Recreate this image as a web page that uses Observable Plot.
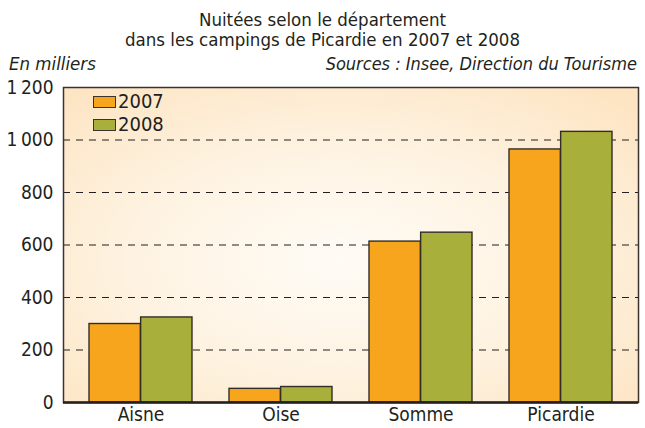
<!DOCTYPE html>
<html><head><meta charset="utf-8">
<script src="https://cdn.jsdelivr.net/npm/d3@7"></script>
<script src="https://cdn.jsdelivr.net/npm/@observablehq/plot@0.6"></script>
<style>
body{margin:0;background:#fff;width:645px;height:428px;overflow:hidden;font-family:"Liberation Sans Narrow","DejaVu Sans Condensed",sans-serif;color:#231f20;}
#wrap{position:relative;width:645px;height:428px;}
.t{position:absolute;white-space:nowrap;}
</style></head>
<body><div id="wrap">
<div class="t" style="left:0;width:645px;top:10px;text-align:center;font-size:18.5px;line-height:20px;">Nuitées selon le département<br>dans les campings de Picardie en 2007 et 2008</div>
<div class="t" style="left:9px;top:53px;font-size:18.5px;font-style:italic;">En milliers</div>
<div class="t" style="right:8px;top:53px;font-size:18px;font-style:italic;">Sources : Insee, Direction du Tourisme</div>
<div id="chart" style="position:absolute;left:0;top:70px;"></div>
<div id="legend" style="position:absolute;left:93px;top:90px;font-size:20px;line-height:23px;"></div>
</div>
<script>
const departements = ["Aisne", "Oise", "Somme", "Picardie"];
const annees = ["2007", "2008"];
const valeurs2007 = [299, 52, 613, 964];
const valeurs2008 = [324, 59, 647, 1031];
const yTicks = [0, 200, 400, 600, 800, 1000, 1200];
const gridTicks = [200, 400, 600, 800, 1000];
const couleurs = ["#f8a51e", "#a8af3a"];

const d2007 = departements.map((d, i) => ({dept: d, annee: annees[0], v: valeurs2007[i]}));
const d2008 = departements.map((d, i) => ({dept: d, annee: annees[1], v: valeurs2008[i]}));

const W = 645, H = 358, mL = 63, mR = 7, mT = 17, mB = 26;
const xOpts = {type: "band", domain: departements, paddingInner: 0.267, paddingOuter: 0.174};
const xs = Plot.scale({x: {...xOpts, range: [mL, W - mR]}});
const half = xs.bandwidth / 2;

const fmt = v => d3.format(",")(v).replace(",", "\u202f");

const plot = Plot.plot({
  width: W,
  height: H,
  marginTop: mT,
  marginBottom: mB,
  marginLeft: mL,
  marginRight: mR,
  style: {fontFamily: '"Liberation Sans Narrow","DejaVu Sans Condensed",sans-serif', fontSize: "19px", color: "#231f20", background: "transparent"},
  x: {...xOpts, label: null, tickSize: 0, tickPadding: 5},
  y: {domain: [0, 1200], ticks: yTicks, tickFormat: fmt, tickSize: 0, tickPadding: 10, label: null},
  color: {domain: annees, range: couleurs},
  marks: [
    Plot.frame({fill: "url(#fondCreme)", stroke: "none"}),
    Plot.ruleY(gridTicks, {stroke: "#231f20", strokeWidth: 1.2, strokeDasharray: "7,6"}),
    Plot.barY(d2007, {x: "dept", y: "v", fill: "annee", stroke: "#332d2a", strokeWidth: 1.4, insetRight: half}),
    Plot.barY(d2008, {x: "dept", y: "v", fill: "annee", stroke: "#332d2a", strokeWidth: 1.4, insetLeft: half}),
    Plot.frame({stroke: "#3a3330", strokeWidth: 1.5}),
    Plot.ruleY([0], {stroke: "#231f20", strokeWidth: 2.5})
  ]
});

const svg = d3.select(plot);
const defs = svg.insert("defs", ":first-child");
const g = defs.append("radialGradient").attr("id", "fondCreme")
  .attr("cx", "0.48").attr("cy", "0.55").attr("r", "0.72");
g.append("stop").attr("offset", "0%").attr("stop-color", "#fffbf5");
g.append("stop").attr("offset", "45%").attr("stop-color", "#fef4e4");
g.append("stop").attr("offset", "100%").attr("stop-color", "#fde4c2");
document.getElementById("chart").appendChild(plot);

const leg = d3.select("#legend");
annees.forEach((a, i) => {
  const row = leg.append("div").style("display", "flex").style("align-items", "center").style("height", "23px");
  row.append("span").style("display", "inline-block").style("width", "21px").style("height", "10px")
    .style("background", couleurs[i]).style("border", "1.3px solid #3a3330").style("margin-right", "2px");
  row.append("span").text(a);
});
</script>
</body></html>
